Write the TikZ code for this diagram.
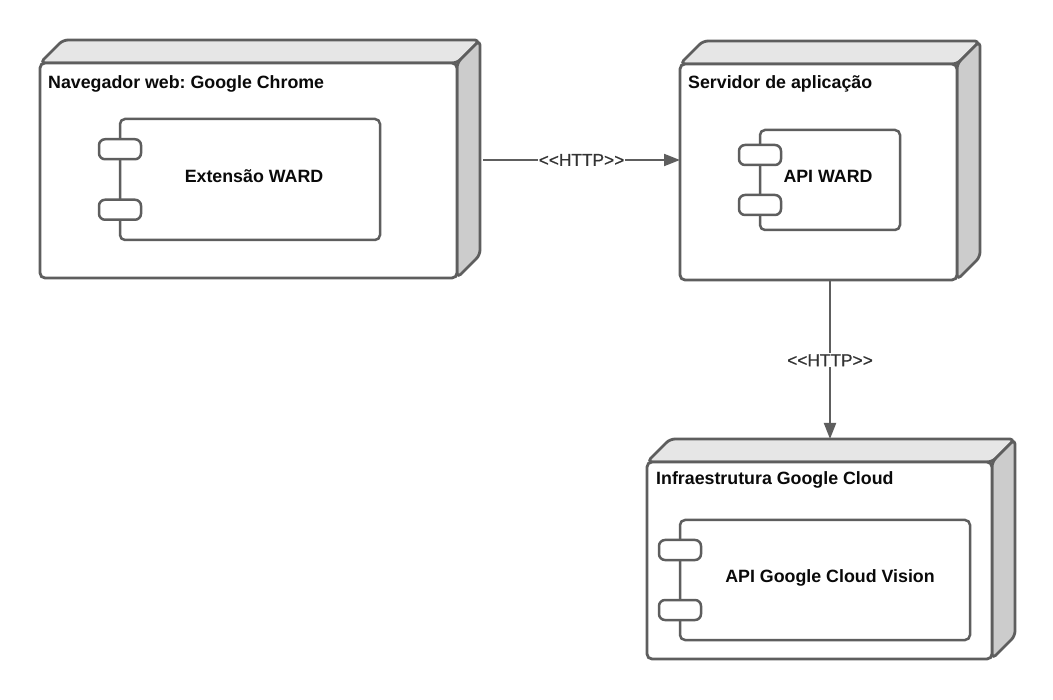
\documentclass[tikz,border=0pt]{standalone}
\usepackage{fontspec}
\setmainfont{Liberation Sans}
\newfontfamily\lblfont{Liberation Sans}[FakeBold=0.6]
\usetikzlibrary{arrows.meta}
\frenchspacing
\definecolor{edge}{HTML}{5E5E5E}
\definecolor{topg}{HTML}{E6E6E6}
\definecolor{sideg}{HTML}{CCCCCC}
\definecolor{lbl}{HTML}{333333}
\definecolor{txt}{HTML}{0A0A0A}
\tikzset{
  front/.style={draw=edge, line width=2.8pt, rounded corners=5pt, fill=white, rectangle, inner sep=0pt, outer sep=0pt},
  face/.style={draw=edge, line width=2.8pt, line join=round, rounded corners=5pt},
  comp/.style={draw=edge, line width=2.5pt, rounded corners=5pt, fill=white, rectangle, inner sep=0pt, outer sep=0pt},
  port/.style={draw=edge, line width=2.5pt, rounded corners=6pt, fill=white, rectangle, inner sep=0pt, outer sep=0pt, minimum width=42pt, minimum height=20pt},
  titletext/.style={anchor=base west, font=\bfseries\fontsize{17.8}{21}\selectfont, text=txt, inner sep=0pt},
  comptext/.style={anchor=base, font=\bfseries\fontsize{17.8}{21}\selectfont, text=txt, inner sep=0pt},
  conn/.style={draw=edge, line width=2pt, -{Triangle[length=16pt,width=12pt]}},
  httplbl/.style={fill=white, text=lbl, font=\lblfont\fontsize{17.3}{20}\selectfont, inner sep=1pt}
}
\newcommand\DeployNode[5]{%
  \pgfmathsetmacro\xa{#2}\pgfmathsetmacro\ya{#3}%
  \pgfmathsetmacro\xb{#4}\pgfmathsetmacro\yb{#5}%
  \pgfmathsetmacro\xc{#4+23}\pgfmathsetmacro\yc{#3-23}%
  \pgfmathsetmacro\xd{#2+23}\pgfmathsetmacro\ye{#5-23}%
  \pgfmathsetmacro\ww{#4-#2}\pgfmathsetmacro\hh{#5-#3}%
  \pgfmathsetmacro\cx{(#2+#4)/2}\pgfmathsetmacro\cy{(#3+#5)/2}%
  \filldraw[face, fill=topg] (\xa,\ya) -- (\xd,\yc) -- (\xc,\yc) -- (\xb,\ya) -- cycle;
  \filldraw[face, fill=sideg] (\xb,\ya) -- (\xc,\yc) -- (\xc,\ye) -- (\xb,\yb) -- cycle;
  \coordinate (#1-back) at (\xd,\yc);
  \node[front, minimum width=\ww pt, minimum height=\hh pt] (#1) at (\cx,\cy) {};
}
\newcommand\CompBox[5]{%
  \pgfmathsetmacro\ww{#4-#2}\pgfmathsetmacro\hh{#5-#3}%
  \pgfmathsetmacro\cx{(#2+#4)/2}\pgfmathsetmacro\cy{(#3+#5)/2}%
  \pgfmathsetmacro\pa{#3+(#5-#3)/4}\pgfmathsetmacro\pb{#5-(#5-#3)/4}%
  \node[comp, minimum width=\ww pt, minimum height=\hh pt] (#1) at (\cx,\cy) {};
  \node[port] (#1-p1) at (#2,\pa) {};
  \node[port] (#1-p2) at (#2,\pb) {};
}
\begin{document}
\begin{tikzpicture}[x=1pt, y=-1pt]
\useasboundingbox (0,0) rectangle (1053,700);
\fill[white] (0,0) rectangle (1053,700);

% Navegador
\DeployNode{n1}{40}{63}{457}{278}
\node[titletext] (t1) at (48,89) {Navegador web: Google Chrome};
\CompBox{c1}{120}{119}{380}{240}
\node[comptext] (ct1) at (254,183) {Extensão WARD};

% Servidor
\DeployNode{n2}{680}{64}{957}{280}
\node[titletext] (t2) at (688,88.5) {Servidor de aplicação};
\CompBox{c2}{760}{130}{900}{230}
\node[comptext] (ct2) at (828,183) {API WARD};

% Google Cloud
\DeployNode{n3}{647}{462}{992}{659}
\node[titletext] (t3) at (656,485) {Infraestrutura Google Cloud};
\CompBox{c3}{680}{520}{970}{640}
\node[comptext] (ct3) at (830,583) {API Google Cloud Vision};

% connectors
\coordinate (a1s) at (483,160);
\draw[conn] (a1s) -- node[httplbl] (l1) {<{}<HTTP>{}>} (a1s -| n2.west);
\coordinate (a2s) at (830,281.5);
\draw[conn] (a2s) -- node[httplbl] (l2) {<{}<HTTP>{}>} (a2s |- n3-back);
\end{tikzpicture}
\end{document}
